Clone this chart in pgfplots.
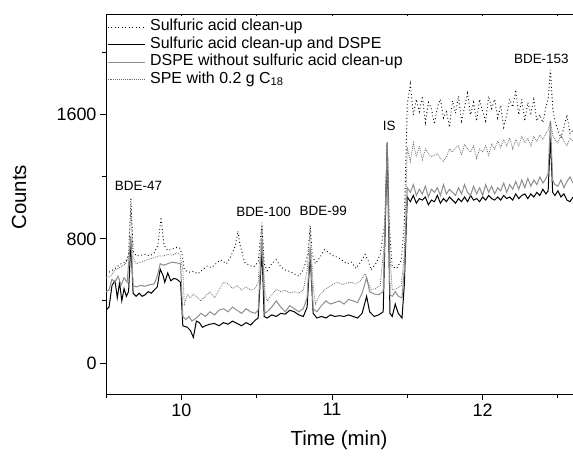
\documentclass[border=0pt]{standalone}
\usepackage{fontspec}
\setmainfont{Liberation Sans}
\usepackage{pgfplots}
\pgfplotsset{compat=1.18}
\definecolor{dspe}{HTML}{8E8E8E}
\definecolor{spe}{HTML}{6A6A6A}
\pgfplotsset{
  frame/.style={
    scale only axis,
    width=467bp, height=380bp,
    xmin=9.5, xmax=12.6, ymin=-200, ymax=2250,
    xtick={10,11,12}, minor xtick={9.5,10.5,11.5,12.5},
    every tick/.style={line width=0.9bp, black},
    axis line style={line width=0.9bp},
  },
}
\begin{document}
\begin{tikzpicture}
\begin{axis}[
  frame,
  name=ax,
  major tick length=6bp, minor tick length=4bp,
  ytick={0,800,1600}, minor ytick={400,1200,2000},
  xtick pos=bottom, ytick pos=left,
  tick align=outside,
  tick label style={font=\fontsize{18}{20}\selectfont},
  /pgf/number format/assume math mode=true,
  /pgf/number format/1000 sep={},
  xlabel={Time (min)}, ylabel={Counts},
  label style={font=\fontsize{20.5}{23}\selectfont},
  xlabel style={at={(axis description cs:0.499,-0.121)}, anchor=center},
  ylabel style={at={(axis description cs:-0.186,0.518)}, anchor=center},
  legend style={draw=none, fill=none, at={(0.0,0.988)}, anchor=north west,
    font=\fontsize{16}{18}\selectfont, inner sep=1bp, row sep=2.5bp,
    nodes={inner sep=0bp, text height=11bp, text depth=4bp},
    /tikz/every odd column/.style={column sep=5bp}},
  legend cell align=left,
  legend image code/.code={\draw[#1] (0bp,0bp) -- (37bp,0bp);},
]
% Sulfuric acid clean-up
\addplot[black, line width=0.9bp, dash pattern=on 0.9bp off 2.6bp] coordinates {
(9.50,575) (9.53,590) (9.56,610) (9.60,640) (9.63,650) (9.65,700) (9.665,1060) (9.68,720)
(9.70,690) (9.73,695) (9.76,700) (9.79,690) (9.82,710) (9.845,760) (9.865,940) (9.885,760)
(9.91,725) (9.94,735) (9.97,745) (9.99,740) (10.005,700) (10.02,600) (10.05,585) (10.08,590)
(10.11,575) (10.14,600) (10.17,625) (10.20,615) (10.23,640) (10.26,665) (10.30,640) (10.33,690)
(10.36,760) (10.375,850) (10.39,760) (10.42,650) (10.45,630) (10.48,620) (10.51,650) (10.535,905)
(10.55,640) (10.57,595) (10.60,640) (10.63,665) (10.66,620) (10.69,600) (10.72,590) (10.75,575)
(10.78,560) (10.81,600) (10.84,700) (10.855,885) (10.87,700) (10.89,640) (10.92,680) (10.95,730)
(10.98,710) (11.01,690) (11.04,680) (11.07,660) (11.10,640) (11.13,650) (11.16,610) (11.19,650)
(11.22,700) (11.24,660) (11.26,600) (11.29,640) (11.32,700) (11.35,900) (11.367,1420) (11.38,900)
(11.40,620) (11.43,610) (11.46,660) (11.48,900) (11.50,1670) (11.52,1800) (11.54,1600) (11.56,1700)
(11.58,1620) (11.60,1720) (11.62,1550) (11.64,1680) (11.66,1640) (11.68,1540) (11.70,1650) (11.72,1700)
(11.74,1580) (11.76,1620) (11.78,1520) (11.80,1690) (11.82,1610) (11.84,1720) (11.86,1560) (11.88,1650)
(11.90,1740) (11.92,1600) (11.94,1680) (11.96,1560) (11.98,1700) (12.00,1620) (12.02,1560) (12.04,1720)
(12.06,1640) (12.08,1700) (12.10,1580) (12.12,1660) (12.14,1520) (12.16,1600) (12.18,1700) (12.20,1650)
(12.22,1760) (12.24,1600) (12.26,1700) (12.28,1560) (12.30,1680) (12.32,1610) (12.34,1700) (12.36,1560)
(12.38,1600) (12.40,1550) (12.42,1650) (12.435,1700) (12.45,1890) (12.465,1650) (12.48,1560) (12.50,1500)
(12.52,1450) (12.54,1520) (12.56,1600) (12.58,1480) (12.60,1500)
};
\addlegendentry{Sulfuric acid clean-up}
% Sulfuric acid clean-up and DSPE
\addplot[black, line width=1bp] coordinates {
(9.50,340) (9.52,360) (9.54,500) (9.56,530) (9.575,420) (9.59,520) (9.605,400) (9.62,480)
(9.635,430) (9.65,460) (9.665,780) (9.68,450) (9.70,430) (9.72,450) (9.74,430) (9.76,440)
(9.78,460) (9.80,450) (9.82,470) (9.84,490) (9.86,605) (9.88,560) (9.89,520) (9.91,580)
(9.93,530) (9.95,545) (9.97,540) (9.995,520) (10.01,240) (10.04,230) (10.06,210) (10.08,165)
(10.10,270) (10.12,260) (10.14,230) (10.16,240) (10.19,250) (10.22,255) (10.25,240) (10.28,260)
(10.31,250) (10.34,270) (10.37,255) (10.40,240) (10.43,260) (10.46,245) (10.49,275) (10.51,290)
(10.535,730) (10.55,300) (10.57,290) (10.60,310) (10.63,300) (10.66,320) (10.69,315) (10.72,340)
(10.75,330) (10.78,310) (10.81,300) (10.835,360) (10.855,700) (10.875,320) (10.90,290) (10.93,300)
(10.96,290) (10.99,310) (11.02,300) (11.05,305) (11.08,300) (11.11,310) (11.14,300) (11.17,290)
(11.20,320) (11.23,430) (11.25,330) (11.28,300) (11.31,310) (11.34,330) (11.367,1420) (11.385,320)
(11.40,300) (11.42,380) (11.44,320) (11.465,290) (11.48,500) (11.50,1070) (11.52,1040) (11.54,1080)
(11.56,1030) (11.58,1060) (11.60,1050) (11.62,1070) (11.64,1020) (11.66,1050) (11.68,1040) (11.70,1080)
(11.72,1030) (11.74,1060) (11.76,1040) (11.78,1070) (11.80,1050) (11.82,1030) (11.84,1060) (11.86,1040)
(11.88,1070) (11.90,1040) (11.92,1080) (11.94,1050) (11.96,1060) (11.98,1040) (12.00,1070) (12.02,1050)
(12.04,1080) (12.06,1060) (12.08,1050) (12.10,1070) (12.12,1050) (12.14,1080) (12.16,1060) (12.18,1070)
(12.20,1050) (12.22,1090) (12.24,1060) (12.26,1080) (12.28,1090) (12.30,1060) (12.32,1090) (12.34,1070)
(12.36,1100) (12.38,1080) (12.40,1120) (12.42,1090) (12.435,1110) (12.45,1450) (12.465,1100) (12.48,1080)
(12.50,1110) (12.52,1070) (12.54,1090) (12.56,1050) (12.58,1040) (12.60,1070)
};
\addlegendentry{Sulfuric acid clean-up and DSPE}
% DSPE without sulfuric acid clean-up
\addplot[dspe, line width=1bp] coordinates {
(9.50,460) (9.52,470) (9.54,540) (9.56,520) (9.58,560) (9.60,500) (9.62,550) (9.64,520)
(9.665,820) (9.68,500) (9.70,490) (9.73,500) (9.76,495) (9.79,505) (9.82,510) (9.84,560)
(9.86,640) (9.88,630) (9.91,640) (9.94,650) (9.97,645) (9.995,640) (10.01,300) (10.03,280)
(10.05,300) (10.07,270) (10.10,290) (10.13,320) (10.16,300) (10.19,330) (10.22,310) (10.25,340)
(10.28,350) (10.31,330) (10.34,360) (10.37,340) (10.40,320) (10.43,350) (10.46,330) (10.49,320)
(10.51,340) (10.535,800) (10.555,320) (10.57,330) (10.60,360) (10.63,400) (10.66,360) (10.69,330)
(10.72,370) (10.75,350) (10.78,330) (10.81,350) (10.835,420) (10.855,750) (10.875,350) (10.90,330)
(10.93,370) (10.96,400) (10.99,380) (11.02,390) (11.05,400) (11.08,380) (11.11,410) (11.14,400)
(11.17,390) (11.20,450) (11.23,550) (11.25,460) (11.28,445) (11.31,440) (11.34,460) (11.367,1420)
(11.385,440) (11.40,430) (11.42,460) (11.44,430) (11.465,420) (11.48,600) (11.50,1130) (11.52,1100)
(11.54,1150) (11.56,1080) (11.58,1120) (11.60,1090) (11.62,1140) (11.64,1070) (11.66,1120) (11.68,1100)
(11.70,1130) (11.72,1080) (11.74,1150) (11.76,1090) (11.78,1120) (11.80,1100) (11.82,1080) (11.84,1130)
(11.86,1090) (11.88,1150) (11.90,1100) (11.92,1080) (11.94,1140) (11.96,1090) (11.98,1130) (12.00,1080)
(12.02,1150) (12.04,1100) (12.06,1140) (12.08,1090) (12.10,1130) (12.12,1110) (12.14,1160) (12.16,1100)
(12.18,1150) (12.20,1120) (12.22,1170) (12.24,1120) (12.26,1180) (12.28,1130) (12.30,1190) (12.32,1140)
(12.34,1180) (12.36,1150) (12.38,1200) (12.40,1160) (12.42,1190) (12.435,1220) (12.45,1560) (12.465,1180)
(12.48,1150) (12.50,1140) (12.52,1180) (12.54,1130) (12.56,1170) (12.58,1200) (12.60,1160)
};
\addlegendentry{DSPE without sulfuric acid clean-up}
% SPE with 0.2 g C18
\addplot[spe, line width=0.8bp, dash pattern=on 0.8bp off 1.1bp] coordinates {
(9.50,550) (9.53,560) (9.56,600) (9.60,620) (9.63,640) (9.65,680) (9.665,1000) (9.68,680)
(9.70,640) (9.73,650) (9.76,660) (9.79,670) (9.82,680) (9.85,690) (9.88,690) (9.91,700)
(9.94,695) (9.97,710) (9.99,700) (10.01,600) (10.02,380) (10.04,440) (10.06,420) (10.08,445)
(10.10,430) (10.13,400) (10.16,430) (10.19,460) (10.22,420) (10.25,470) (10.28,520) (10.31,510)
(10.34,480) (10.37,500) (10.40,470) (10.43,490) (10.46,470) (10.49,480) (10.51,520) (10.535,880)
(10.555,450) (10.57,400) (10.60,440) (10.63,475) (10.66,460) (10.69,470) (10.72,450) (10.75,460)
(10.78,450) (10.81,470) (10.835,600) (10.855,860) (10.875,500) (10.89,380) (10.92,440) (10.95,470)
(10.98,490) (11.01,510) (11.04,520) (11.07,505) (11.10,515) (11.13,520) (11.16,510) (11.19,530)
(11.22,575) (11.24,520) (11.26,470) (11.29,480) (11.32,500) (11.35,800) (11.367,1400) (11.385,700)
(11.40,470) (11.43,480) (11.46,500) (11.48,700) (11.50,1390) (11.52,1300) (11.54,1420) (11.56,1330)
(11.58,1400) (11.60,1310) (11.62,1380) (11.64,1350) (11.66,1330) (11.68,1340) (11.70,1350) (11.72,1320)
(11.74,1300) (11.76,1330) (11.78,1380) (11.80,1360) (11.82,1390) (11.84,1400) (11.86,1340) (11.88,1410)
(11.90,1380) (11.92,1360) (11.94,1400) (11.96,1320) (11.98,1380) (12.00,1360) (12.02,1400) (12.04,1340)
(12.06,1410) (12.08,1380) (12.10,1430) (12.12,1390) (12.14,1440) (12.16,1400) (12.18,1450) (12.20,1380)
(12.22,1440) (12.24,1400) (12.26,1460) (12.28,1420) (12.30,1450) (12.32,1400) (12.34,1460) (12.36,1430)
(12.38,1470) (12.40,1440) (12.42,1480) (12.435,1500) (12.45,1560) (12.465,1470) (12.48,1440) (12.50,1420)
(12.52,1470) (12.54,1430) (12.56,1400) (12.58,1450) (12.60,1430)
};
\addlegendentry{SPE with 0.2 g C\textsubscript{18}}
\begin{scope}[font=\fontsize{13.5}{15}\selectfont]
\node at (axis cs:9.716,1144) {BDE-47};
\node at (axis cs:10.546,972) {BDE-100};
\node at (axis cs:10.942,982) {BDE-99};
\node at (axis cs:11.38,1531) {IS};
\node at (axis cs:12.39,1963) {BDE-153};
\end{scope}
\end{axis}
\begin{axis}[
  frame,
  major tick length=2bp, minor tick length=2bp,
  xtick pos=top, ytick=\empty,
  tick align=inside,
  xticklabels={},
  axis line style={draw=none},
]
\end{axis}
\pgfresetboundingbox
\path ([xshift=-106bp,yshift=-62bp]ax.south west) rectangle ([yshift=14bp]ax.north east);
\end{tikzpicture}
\end{document}
